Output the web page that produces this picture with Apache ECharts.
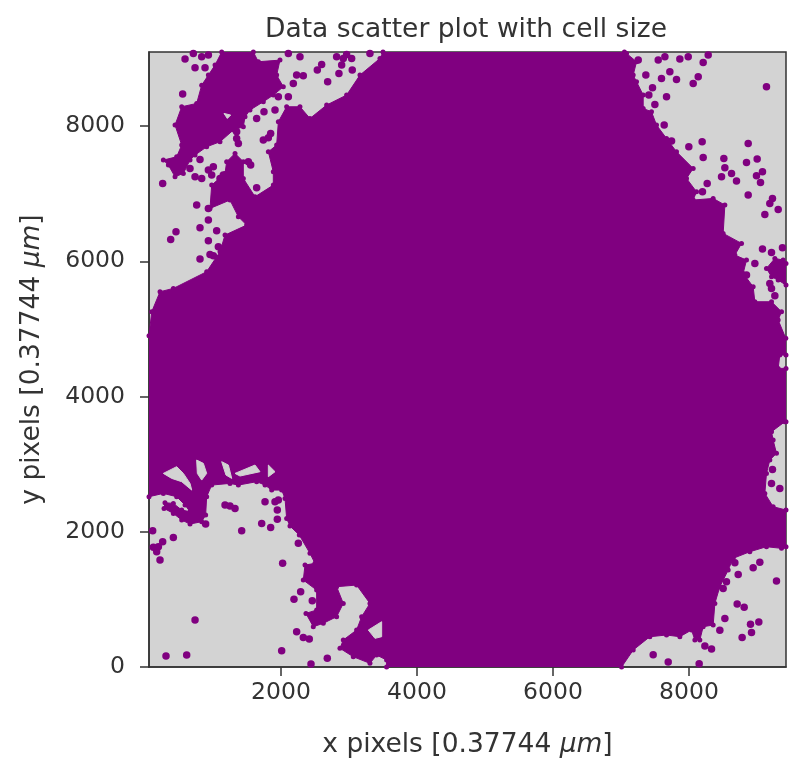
<!DOCTYPE html>
<html><head><meta charset="utf-8">
<style>html,body{margin:0;padding:0;background:#fff}#c{width:800px;height:768px}</style>
<script src="https://cdn.jsdelivr.net/npm/echarts@6/dist/echarts.min.js"></script>
</head><body><div id="c"></div>
<script>
const titleText = 'Data scatter plot with cell size';
const xTicks = [2000,4000,6000,8000];
const yTicks = [0,2000,4000,6000,8000];
const xRange = [59,9426];
const yRange = [0,9097];

// Dense core of the cell cloud, outline [x,y]
const denseCore = [[3500,9097],[3455,9002],[3161,8755],[2965,8460],[2671,8312],[2426,8114],[2279,8287],[2083,8287],[1961,8065],[1936,7720],[1814,7621],[1887,7326],[1887,7128],[1618,6956],[1446,7227],[1446,7474],[1324,7597],[1201,7474],[1177,7301],[981,7128],[956,6783],[1250,6907],[1373,6660],[1495,6537],[1177,6389],[1103,6142],[907,5847],[417,5600],[221,5551],[99,5255],[59,4900],
[59,2519],[270,2568],[466,2519],[589,2396],[662,2297],[540,2322],[417,2420],[294,2430],[280,2346],[417,2272],[540,2174],[662,2115],[834,2149],[892,2248],[907,2519],[981,2691],[1250,2716],[1373,2691],[1642,2741],[1765,2691],[1863,2617],[2010,2617],[2059,2494],[2083,2198],[2132,2085],[2269,1952],[2426,1681],[2500,1533],[2353,1508],[2328,1286],[2524,1138],[2524,843],[2367,793],[2475,596],[2622,646],[2818,744],[2916,941],[2818,1188],[3112,1212],[3308,941],[3186,744],[3112,547],[2916,399],[2867,276],[3063,152],[3308,54],[3406,177],[3553,103],[3553,0],
[7008,0],[7179,251],[7424,448],[7669,473],[7865,448],[8037,547],[8086,399],[8159,399],[8208,596],[8355,621],[8380,941],[8453,1188],[8576,1434],[8649,1607],[8894,1705],[9139,1779],[9360,1755],[9426,1779],[9426,2322],[9237,2371],[9115,2568],[9139,2864],[9188,3061],[9286,3160],[9237,3357],[9213,3480],[9409,3628],[9426,3628],[9426,4417],[9311,4417],[9335,4614],[9426,4614],[9423,4861],[9311,5132],[9360,5255],[9213,5403],[8968,5403],[8943,5625],[8796,5822],[8845,6019],[8674,6093],[8772,6266],[8502,6414],[8527,6833],[8355,6931],[8061,6907],[8110,7030],[7963,7227],[8061,7375],[7816,7621],[7669,7819],[7522,8016],[7448,8213],[7326,8262],[7326,8460],[7228,8657],[7179,8755],[7228,8953],[7081,9076],[7050,9097]];

// Large merged patch at upper left
const upperPatch = [[1128,9097],[1593,9097],[1667,8953],[1985,8977],[1936,8755],[2034,8583],[1887,8460],[1740,8361],[1544,8238],[1471,8139],[1446,7991],[1299,7942],[1103,7769],[907,7695],[736,7572],[662,7498],[564,7301],[442,7252],[344,7424],[270,7498],[466,7547],[540,7720],[442,8016],[540,8287],[760,8336],[834,8607],[932,8755],[1030,8903]];
// Merged patch at the right edge
const rightPatch = [[9139,5896],[9262,6044],[9384,6019],[9426,5970],[9426,5649],[9311,5723],[9213,5773]];

// Empty pockets inside the dense region
const pocketA = [[270,2864],[466,2963],[564,2864],[662,2716],[687,2617],[540,2741],[393,2790]];
const pocketB = [[760,3061],[858,3012],[907,2864],[834,2765],[770,2864]];
const pocketC = [[1128,3037],[1226,2987],[1275,2790],[1191,2839]];
const pocketD = [[1324,2864],[1618,2987],[1691,2889],[1397,2825]];
const pocketE = [[1814,2987],[1912,2889],[1814,2815]];
const pocketF = [[3284,547],[3480,670],[3480,448],[3382,424]];
const pocketG = [[1162,8188],[1260,8164],[1211,8114]];

// Isolated cells
const cellsUpperLeft = [[554,8474],[589,8992],[736,8864],[883,8864],[834,9026],[932,9051],[711,9076],[260,7153],[760,6833],[932,6783],[932,6611],[809,6497],[456,6438],[378,6325],[1054,6453],[932,6305],[1079,6216],[956,6103],[1005,6083],[809,6034],[662,7375],[736,7252],[834,7227],[932,7350],[1005,7400],[981,7276],[1152,7276],[1103,7227],[1348,7819],[1373,7745],[1348,7917],[1520,7474],[1554,7424],[1642,8114],[1750,8213],[1912,8238],[1961,8435],[2108,8435],[1848,7893],[1740,7794],[1814,7828],[1642,7089],[2108,9076],[2279,9026],[2230,8755],[2328,8745],[2181,8632],[2598,8913],[2534,8829],[2686,8657],[2852,8780],[2892,8903],[3048,8829],[2818,9026],[2916,9002],[3039,9002],[3308,9076],[2965,9061],[809,7508]];
const cellsUpperRight = [[7253,8977],[7547,8977],[7645,9026],[7865,8992],[7988,9026],[8282,9051],[8208,8943],[7365,8755],[7718,8805],[7595,8706],[7816,8691],[8135,8731],[8061,8632],[7463,8568],[7409,8460],[7669,8435],[7498,8321],[7635,8016],[7743,7779],[7997,7695],[8193,7769],[8208,7538],[8512,7523],[8527,7385],[8478,7252],[8625,7301],[8698,7188],[8267,7153],[8198,7030],[8870,7745],[8845,7464],[9002,7513],[9080,7326],[8992,7266],[9051,7168],[8870,6981],[9227,6931],[9188,6857],[9311,6769],[9115,6695],[9139,8583],[9080,6182],[9213,6133],[9374,6202],[8968,5970],[8845,5797],[9188,5674],[9262,5492],[9213,5600]];
const cellsLowerLeft = [[113,2016],[260,1853],[417,1917],[123,1770],[197,1779],[172,1705],[221,1582],[892,2115],[1177,2396],[1250,2381],[1324,2346],[1765,2445],[1961,2470],[1946,2322],[1716,2124],[1946,2184],[1848,2065],[1422,2016],[2255,1829],[2024,1533],[736,695],[309,162],[613,177],[2010,241],[2289,1114],[2191,1001],[2460,981],[2230,522],[2328,438],[2416,414],[2681,128],[2441,44],[1912,2445]];
const cellsLowerRight = [[9227,2923],[9213,2716],[9335,2642],[9286,2174],[9360,2026],[9335,1903],[9237,2075],[8674,1543],[9041,1548],[8943,1469],[8723,1370],[9286,1272],[8551,1262],[8502,1163],[8708,931],[8811,882],[8527,719],[8904,631],[9026,665],[8919,512],[8781,438],[8453,542],[8233,310],[8331,266],[7473,182],[7694,74],[8149,49],[7375,503]];

const PURPLE = '#800080', GREY = '#d3d3d3', INK = '#333333';
const FONT = '"DejaVu Sans", sans-serif';

function polygonSeries(points, color, z) {
  return {
    type: 'custom', coordinateSystem: 'cartesian2d', data: points, clip: true, silent: true, z: z,
    animation: false,
    renderItem: function (params, api) {
      if (params.dataIndex !== 0) return null;
      return { type: 'polygon',
        shape: { points: points.map(function (p) { return api.coord(p); }) },
        style: { fill: color, stroke: color, lineWidth: 1 } };
    }
  };
}
function scatterSeries(points, size) {
  return { type: 'scatter', data: points, symbolSize: size, z: 5, silent: true, clip: true,
    itemStyle: { color: PURPLE, opacity: 1 } };
}
const nameRich = { i: { fontFamily: FONT, fontStyle: 'italic', fontSize: 26.5, color: INK } };
const plainNumber = function (v) { return String(v); };

const chart = echarts.init(document.getElementById('c'), null, { renderer: 'canvas' });
chart.setOption({
  animation: false,
  backgroundColor: '#ffffff',
  title: { text: titleText, left: 461, top: 12, textAlign: 'center',
    textStyle: { fontFamily: FONT, fontWeight: 'normal', fontSize: 26.5, color: INK } },
  grid: { left: 149, right: 14, top: 52, bottom: 101, show: true, backgroundColor: GREY,
    borderColor: INK, borderWidth: 1.5, z: 0, containLabel: false, outerBoundsMode: 'none' },
  xAxis: { type: 'value', min: xRange[0], max: xRange[1], splitLine: { show: false },
    name: 'x pixels [0.37744 {i|μm}]', nameLocation: 'middle', nameGap: 65,
    nameTextStyle: { fontFamily: FONT, fontSize: 26.5, color: INK, rich: nameRich },
    axisLine: { show: true, onZero: false, lineStyle: { color: INK, width: 1.5 } },
    axisTick: { show: true, length: 9, customValues: xTicks, lineStyle: { color: INK, width: 1.5 } },
    axisLabel: { customValues: xTicks, formatter: plainNumber, margin: 14, fontFamily: FONT, fontSize: 23.5, color: INK } },
  yAxis: { type: 'value', min: yRange[0], max: yRange[1], splitLine: { show: false },
    name: 'y pixels [0.37744 {i|μm}]', nameLocation: 'middle', nameGap: 103,
    nameTextStyle: { fontFamily: FONT, fontSize: 26.5, color: INK, rich: nameRich },
    axisLine: { show: true, onZero: false, lineStyle: { color: INK, width: 1.5 } },
    axisTick: { show: true, length: 9, customValues: yTicks, lineStyle: { color: INK, width: 1.5 } },
    axisLabel: { customValues: yTicks, formatter: plainNumber, margin: 24, fontFamily: FONT, fontSize: 23.5, color: INK } },
  series: [
    polygonSeries(denseCore, PURPLE, 2),
    polygonSeries(upperPatch, PURPLE, 2),
    polygonSeries(rightPatch, PURPLE, 2),
    polygonSeries(pocketA, GREY, 3),
    polygonSeries(pocketB, GREY, 3),
    polygonSeries(pocketC, GREY, 3),
    polygonSeries(pocketD, GREY, 3),
    polygonSeries(pocketE, GREY, 3),
    polygonSeries(pocketF, GREY, 3),
    polygonSeries(pocketG, GREY, 3),
    scatterSeries(denseCore, 5),
    scatterSeries(upperPatch, 5),
    scatterSeries(rightPatch, 5),
    scatterSeries(cellsUpperLeft, 7.5),
    scatterSeries(cellsUpperRight, 7.5),
    scatterSeries(cellsLowerLeft, 7.5),
    scatterSeries(cellsLowerRight, 7.5)
  ]
});
</script></body></html>
